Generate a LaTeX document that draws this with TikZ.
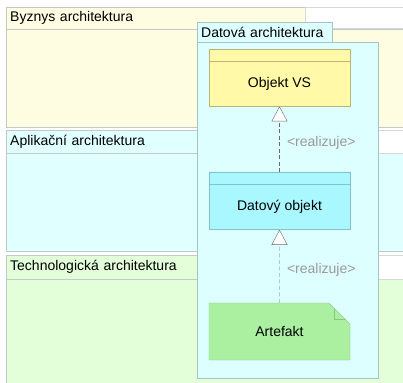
\documentclass[tikz,border=0pt]{standalone}
\usepackage{fontspec}
\setmainfont{Liberation Sans}
\usetikzlibrary{positioning, arrows.meta, shapes.misc}

\definecolor{layerline}{HTML}{C4C8C8}
\definecolor{bizfill}{HTML}{FFFDE1}
\definecolor{appfill}{HTML}{E0FFFF}
\definecolor{techfill}{HTML}{E2FFD9}
\definecolor{grpfill}{HTML}{DDFFFF}
\definecolor{grpline}{HTML}{A6C4C6}
\definecolor{vsfill}{HTML}{FFF9A8}
\definecolor{vsline}{HTML}{BDB478}
\definecolor{dobjfill}{HTML}{AAF8FF}
\definecolor{dobjline}{HTML}{82C2CA}
\definecolor{artfill}{HTML}{AAF0A0}
\definecolor{artline}{HTML}{8CC486}
\definecolor{relline}{HTML}{6A6A6A}
\definecolor{rellabel}{HTML}{9A9A9A}

\begin{document}
\begin{tikzpicture}[
		x=1pt, y=-1pt,
		font=\fontsize{14}{16}\selectfont,
		layer tab/.style={draw=layerline, anchor=north west, minimum height=22pt, text width=291pt, inner xsep=4pt, inner ysep=0pt, align=left},
		layer body/.style={draw=layerline, anchor=north west, minimum width=410pt, inner sep=0pt},
		layer strip/.style={draw=layerline!70, fill=white, anchor=north west, minimum width=110pt, inner sep=0pt},
		group tab/.style={draw=grpline, fill=grpfill, anchor=north west, minimum height=20pt, text width=127pt, inner xsep=4pt, inner ysep=0pt, align=left},
		group body/.style={draw=grpline, fill=grpfill, anchor=north west, minimum width=181pt, minimum height=336pt, inner sep=0pt},
		data object/.style={draw=#1, rectangle, minimum width=141pt, minimum height=57pt, inner sep=0pt,
			path picture={\draw[#1] ([yshift=-12pt]path picture bounding box.north west) -- ([yshift=-12pt]path picture bounding box.north east);}},
		artefact node/.style={draw=artline, fill=artfill, chamfered rectangle, chamfered rectangle corners=north east,
			chamfered rectangle xsep=16pt, chamfered rectangle ysep=16pt, minimum width=141pt, minimum height=57pt, inner sep=0pt,
			path picture={\draw[artline] ([xshift=-16pt]path picture bounding box.north east) -- ++(0,-16pt) -- ++(16pt,0);}},
		realize line/.style={draw=relline, dash pattern=on 4pt off 2.5pt, -{Triangle[open, length=15pt, width=16pt, fill=white]}},
		realize label/.style={text=rellabel}
		]
		
		\clip (0,0) rectangle (403,382);
		
		% ==========================================
		% 1. LAYERS
		% ==========================================
		
		% Business layer
		\node[layer body, fill=bizfill, minimum height=98pt] (bizbody) at (6,29) {};
		\node[layer tab, fill=bizfill] (biztab) at (6,7) {Byznys architektura};
		\node[layer strip, minimum height=21pt] (bizstrip) at (305,7) {};
		
		% Application layer
		\node[layer body, fill=appfill, minimum height=98pt] (appbody) at (6,153) {};
		\node[layer tab, fill=appfill, minimum height=23pt] (apptab) at (6,130) {Aplikační architektura};
		\node[layer strip, minimum height=23pt] (appstrip) at (305,130) {};
		
		% Technology layer
		\node[layer body, fill=techfill, minimum height=120pt] (techbody) at (6,279) {};
		\node[layer tab, fill=techfill, minimum height=24pt] (techtab) at (6,255) {Technologická architektura};
		\node[layer strip, minimum height=24pt] (techstrip) at (305,255) {};
		
		% ==========================================
		% 2. DATA ARCHITECTURE GROUP
		% ==========================================
		
		\node[group body] (grpbody) at (197,42) {};
		\node[group tab] (grptab) at (197,22) {Datová architektura};
		
		% Elements
		\node[data object=vsline, fill=vsfill, anchor=north, label={[yshift=-6pt]center:Objekt VS}] (vs) at (279.5,49) {};
		\node[data object=dobjline, fill=dobjfill, below=66pt of vs, label={[yshift=-6pt]center:Datový objekt}] (dobj) {};
		\node[artefact node, below=73pt of dobj] (art) {Artefakt\hspace{14pt}};
		
		% Realizations
		\draw[realize line] (dobj) -- (vs) node[realize label, pos=0.45, right=4pt] {\textless realizuje\textgreater};
		\draw[realize line] (art) -- (dobj) node[realize label, pos=0.45, right=4pt] {\textless realizuje\textgreater};
		
	\end{tikzpicture}
\end{document}
